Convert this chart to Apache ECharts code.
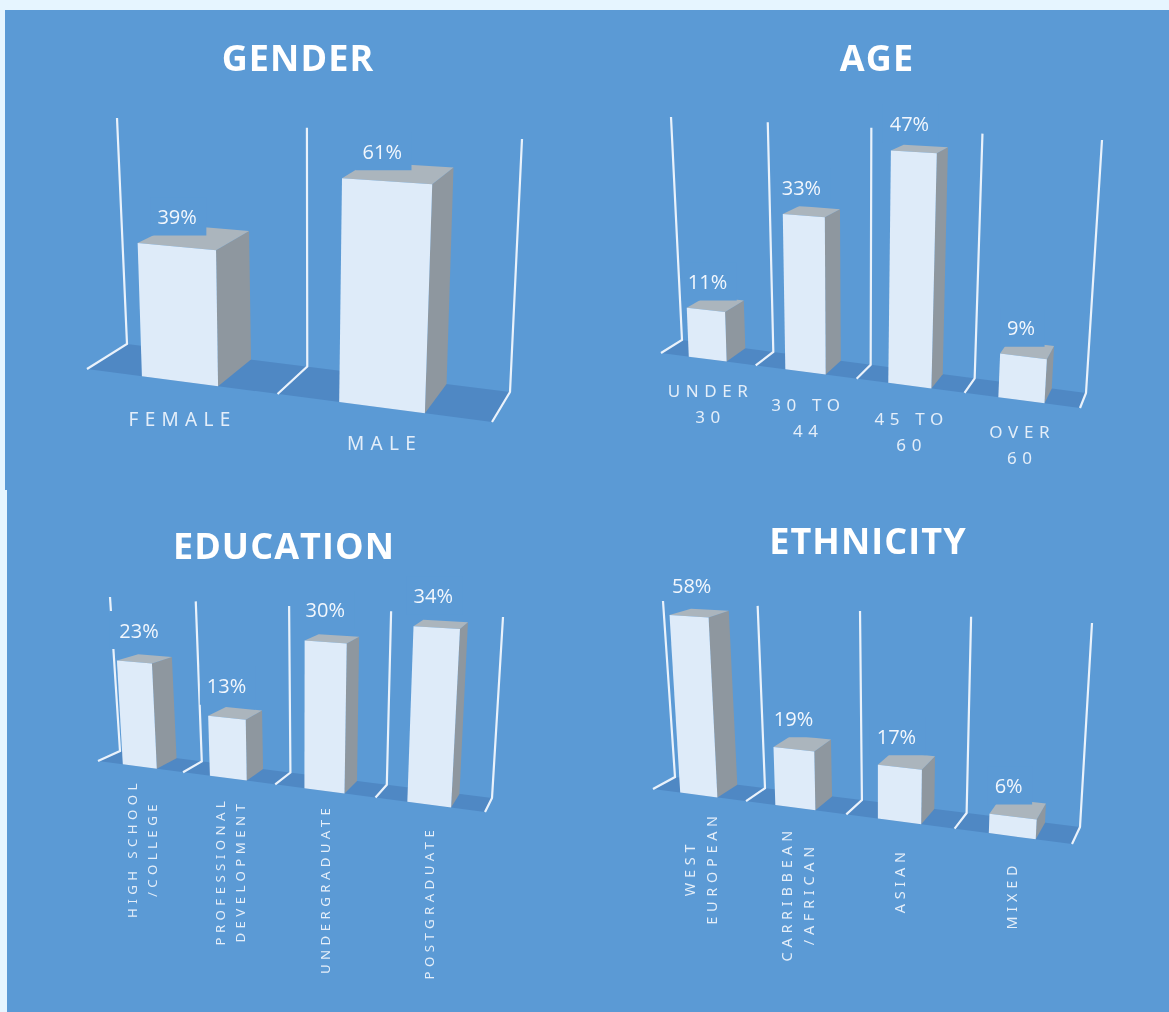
<!DOCTYPE html>
<html>
<head>
<meta charset="utf-8">
<style>
html,body{margin:0;padding:0;background:#E6F5FF}
#c{width:1169px;height:1012px;filter:blur(0.45px)}
svg text[style*="Noto Sans"]{letter-spacing:.33em}
svg text[style*="700"]{letter-spacing:.03em}
</style>
<script src="https://cdn.jsdelivr.net/npm/echarts@6/dist/echarts.min.js"></script>
</head>
<body>
<div id="c"></div>
<script>
// ---- data ----
const genderCategories = ['FEMALE', 'MALE'];
const genderValues = [39, 61];
const ageCategories = ['UNDER\n30', '30 TO\n44', '45 TO\n60', 'OVER\n60'];
const ageValues = [11, 33, 47, 9];
const educationCategories = ['HIGH SCHOOL\n/COLLEGE', 'PROFESSIONAL\nDEVELOPMENT', 'UNDERGRADUATE', 'POSTGRADUATE'];
const educationValues = [23, 13, 30, 34];
const ethnicityCategories = ['WEST\nEUROPEAN', 'CARRIBBEAN\n/AFRICAN', 'ASIAN', 'MIXED'];
const ethnicityValues = [58, 19, 17, 6];

// ---- layout: perspective box of each panel (back wall and floor corners) ----
const panels = [
  {title:'GENDER', tx:293, ty:34, cats:genderCategories, vals:genderValues, max:69.5,
   BL:[127,344], BR:[510,392], TL:[117,118], TR:[522,139], FL:[87,369], FR:[492,422],
   fs:19, lh:27, rot:false, drop:[38,35], dx:[3,3], labelUp:30, labelDx:[2,-3], padL:[7,7]},
  {title:'AGE', tx:872, ty:34, cats:ageCategories, vals:ageValues, max:50,
   BL:[682,340], BR:[1086,393], TL:[671,117], TR:[1102,140], FL:[661,353], FR:[1080,408],
   fs:17, lh:26, rot:false, drop:[44.5,45.5,45.5,44.5], dx:[3,3,2,1], labelUp:28.5, labelDx:[3,-1,-3,-1], padL:[6,7,7,7]},
  {title:'EDUCATION', tx:279, ty:522, cats:educationCategories, vals:educationValues, max:35.3,
   BL:[120,751], BR:[492,798], TL:[110,597], TR:[503,617], FL:[98,761], FR:[485,812],
   fs:13.3, lh:20, rot:true, drop:[82,93,98,98], dx:[2,2,1,0], labelUp:32, labelDx:[6,1,1,-2], padL:[10,7,7,7]},
  {title:'ETHNICITY', tx:863, ty:517, cats:ethnicityCategories, vals:ethnicityValues, max:60,
   BL:[675,777], BR:[1080,827], TL:[663,601], TR:[1092,623], FL:[653,789], FR:[1072,844],
   fs:14.4, lh:22, rot:true, drop:[73,86,59,59], dx:[2,2,0,-1], labelUp:31, labelDx:[4,1,-2,-3], padL:[7,7,7,7]}
];

const FRONT = '#DEEBF9', SIDE = '#8E979F', TOP = '#ABB5BD', FLOOR = '#4F88C4', WALL = '#EAF2FB', BG = '#5B9AD5';
const BAR_LO = 0.3, BAR_HI = 0.7;

function homography(p00, p10, p11, p01) {
  const dx1 = p10[0]-p11[0], dx2 = p01[0]-p11[0], sx = p00[0]-p10[0]+p11[0]-p01[0];
  const dy1 = p10[1]-p11[1], dy2 = p01[1]-p11[1], sy = p00[1]-p10[1]+p11[1]-p01[1];
  const det = dx1*dy2-dx2*dy1;
  const g = (sx*dy2-dx2*sy)/det, h = (dx1*sy-sx*dy1)/det;
  const a = p10[0]-p00[0]+g*p10[0], b = p01[0]-p00[0]+h*p01[0], c = p00[0];
  const d = p10[1]-p00[1]+g*p10[1], e = p01[1]-p00[1]+h*p01[1], f = p00[1];
  return (u,v) => { const q = g*u+h*v+1; return [(a*u+b*v+c)/q, (d*u+e*v+f)/q]; };
}
// Perspective mapping: u, v in the unit square, w 0 = back wall, 1 = front edge
panels.forEach(p => {
  const k = (p.FR[0]-p.FL[0])/(p.BR[0]-p.BL[0]);
  const FTL = [p.FL[0]+(p.TL[0]-p.BL[0])*k, p.FL[1]+(p.TL[1]-p.BL[1])*k];
  const FTR = [p.FR[0]+(p.TR[0]-p.BR[0])*k, p.FR[1]+(p.TR[1]-p.BR[1])*k];
  const back = homography(p.BL, p.BR, p.TR, p.TL);
  const front = homography(p.FL, p.FR, FTR, FTL);
  p.warp = (u,v,w) => { const a = back(u,v), b = front(u,v); return [a[0]+(b[0]-a[0])*w, a[1]+(b[1]-a[1])*w]; };
});

const grids = [], xAxes = [], yAxes = [], titles = [], series = [];
panels.forEach((p, idx) => {
  grids.push({left:p.TL[0], top:p.TL[1], width:p.BR[0]-p.TL[0], height:p.BR[1]-p.TL[1]});
  xAxes.push({gridIndex:idx, type:'category', data:p.cats, show:false});
  yAxes.push({gridIndex:idx, type:'value', min:0, max:p.max, show:false});
  titles.push({text:p.title, left:p.tx, top:p.ty, textAlign:'center',
    textStyle:{color:'#fff', fontFamily:'Open Sans', fontWeight:700, fontSize:36}});

  const n = p.cats.length;
  const unit = (params, api, cat, val) => {
    const cs = params.coordSys, pt = api.coord([cat, val]);
    return [(pt[0]-cs.x)/cs.width, (cs.y+cs.height-pt[1])/cs.height];
  };
  // floor and walls
  series.push({
    type:'custom', xAxisIndex:idx, yAxisIndex:idx, z:2, silent:true, clip:false,
    data:p.cats.map((c,i)=>[i,p.max]),
    renderItem:(params, api) => {
      const i = api.value(0), top = api.value(1);
      const bw = api.size([1,0])[0]/params.coordSys.width;
      const u0 = unit(params, api, i, 0)[0]-bw/2;
      const vTop = unit(params, api, i, top)[1];
      const children = [];
      const wall = u => ({type:'polyline', shape:{points:[p.warp(u,vTop,0), p.warp(u,0,0), p.warp(u,0,1)]},
        style:{stroke:WALL, lineWidth:2.2, fill:null}});
      if (i === 0) children.push({type:'polygon',
        shape:{points:[p.warp(0,0,0), p.warp(1,0,0), p.warp(1,0,1), p.warp(0,0,1)]},
        style:{fill:FLOOR}});
      children.push(wall(u0));
      if (i === n-1) children.push(wall(u0+bw));
      return {type:'group', children};
    }
  });
  // bars with data labels and category labels
  series.push({
    type:'custom', xAxisIndex:idx, yAxisIndex:idx, z:3, silent:true, clip:false,
    data:p.vals.map((v,i)=>[i,v]),
    renderItem:(params, api) => {
      const i = api.value(0), val = api.value(1);
      const bw = api.size([1,0])[0]/params.coordSys.width;
      const c = unit(params, api, i, val);
      const u0 = c[0]-bw/2, a = u0+bw*BAR_LO, b = u0+bw*BAR_HI, v = c[1];
      const W = p.warp;
      const face = (pts, fill) => ({type:'polygon', shape:{points:pts}, style:{fill}});
      const ft = W((a+b)/2, v, 1), fb = W((a+b)/2, 0, 1);
      const lx = fb[0]+p.dx[i], ly = fb[1]+p.drop[i];
      return {type:'group', children:[
        face([W(b,0,1), W(b,0,0), W(b,v,0), W(b,v,1)], SIDE),
        face([W(a,v,1), W(b,v,1), W(b,v,0), W(a,v,0)], TOP),
        face([W(a,0,1), W(b,0,1), W(b,v,1), W(a,v,1)], FRONT),
        {type:'text', x:ft[0]+p.labelDx[i]-(p.padL[i]-7)/2, y:ft[1]-p.labelUp, z2:5,
          style:{text:val+'%', fill:'#F2F7FD', fontFamily:'Open Sans', fontSize:20, align:'center', verticalAlign:'middle',
            backgroundColor:BG, padding:[9,9.5,9,p.padL[i]]}},
        {type:'text', x:lx, y:ly, rotation:p.rot?Math.PI/2:0, z2:5,
          style:{text:p.cats[i], fill:'#E4EEF9', fontFamily:'Noto Sans', fontSize:p.fs, lineHeight:p.lh,
            align:'center', verticalAlign:'middle'}}
      ]};
    }
  });
});

const chart = echarts.init(document.getElementById('c'), null, {renderer:'svg', width:1169, height:1012});
chart.setOption({
  animation:false,
  backgroundColor:'#E6F5FF',
  title:titles, grid:grids, xAxis:xAxes, yAxis:yAxes, series,
  graphic:[
    {type:'rect', z:-10, shape:{x:5, y:10, width:1164, height:480}, style:{fill:BG}},
    {type:'rect', z:-10, shape:{x:7, y:490, width:1162, height:522}, style:{fill:BG}}
  ]
});
</script>
</body>
</html>
